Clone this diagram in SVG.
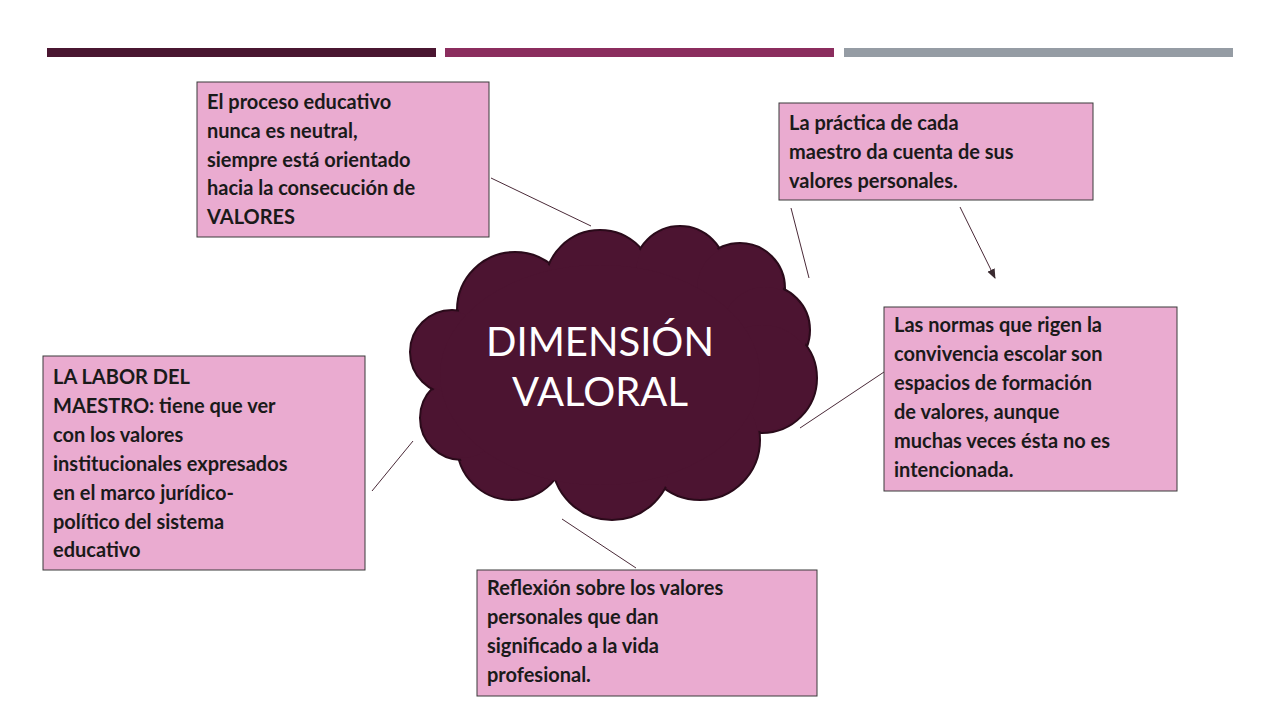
<svg xmlns="http://www.w3.org/2000/svg" width="1280" height="720" viewBox="0 0 1280 720">
<style>
.box{fill:#eaabd0;stroke:#3a3a3a;stroke-width:1}
.t{font-family:Lato,"Open Sans",sans-serif;font-weight:bold;font-size:20px;fill:#1a1a1a}
.c{stroke:#4a2a38;stroke-width:1;fill:none}
.cl{fill:#4c1431;stroke:#2a0a1a;stroke-width:2}
.cf{fill:#4c1431}
</style>
<defs><marker id="ah" markerWidth="10" markerHeight="10" refX="9" refY="5" orient="auto" markerUnits="userSpaceOnUse"><path d="M0,1 L10,5 L0,9 z" fill="#3a2a30"/></marker></defs>
<rect x="47" y="48" width="389" height="9" fill="#4a1631"/>
<rect x="445" y="48" width="389" height="9" fill="#8b2d5e"/>
<rect x="844" y="48" width="389" height="9" fill="#959ca4"/>
<g id="cloud">
<g class="cl">
<circle cx="515" cy="310" r="58"/><circle cx="600" cy="285" r="55"/><circle cx="680" cy="272" r="46"/><circle cx="740" cy="288" r="45"/><circle cx="765" cy="330" r="45"/><circle cx="762" cy="378" r="55"/><circle cx="700" cy="440" r="60"/><circle cx="612" cy="460" r="60"/><circle cx="512" cy="445" r="55"/><circle cx="462" cy="418" r="42"/><circle cx="452" cy="352" r="42"/>
</g>
<g class="cf">
<circle cx="515" cy="310" r="56"/><circle cx="600" cy="285" r="53"/><circle cx="680" cy="272" r="44"/><circle cx="740" cy="288" r="43"/><circle cx="765" cy="330" r="43"/><circle cx="762" cy="378" r="53"/><circle cx="700" cy="440" r="58"/><circle cx="612" cy="460" r="58"/><circle cx="512" cy="445" r="53"/><circle cx="462" cy="418" r="40"/><circle cx="452" cy="352" r="40"/><ellipse cx="600" cy="375" rx="160" ry="110"/>
</g>
<text x="600" y="356" text-anchor="middle" font-family="Lato,sans-serif" font-size="40" fill="#fff">DIMENSIÓN</text>
<text x="600" y="406" text-anchor="middle" font-family="Lato,sans-serif" font-size="40" fill="#fff">VALORAL</text>
</g>
<g id="connectors">
<line class="c" x1="491" y1="178" x2="591" y2="226"/>
<line class="c" x1="791" y1="208" x2="809" y2="278"/>
<line class="c" x1="960" y1="207" x2="995" y2="278" marker-end="url(#ah)"/>
<line class="c" x1="884" y1="372" x2="800" y2="428"/>
<line class="c" x1="413" y1="441" x2="372" y2="491"/>
<line class="c" x1="562" y1="519" x2="636" y2="568"/>
</g>
<g id="n1"><rect class="box" x="197" y="82" width="292" height="155"/>
<text class="t" x="207" y="109">El proceso educativo</text><text class="t" x="207" y="138">nunca es neutral,</text><text class="t" x="207" y="167">siempre está orientado</text><text class="t" x="207" y="195">hacia la consecución de</text><text class="t" x="207" y="224">VALORES</text></g>
<g id="n2"><rect class="box" x="779" y="103" width="314" height="97"/>
<text class="t" x="789" y="130">La práctica de cada</text><text class="t" x="789" y="159">maestro da cuenta de sus</text><text class="t" x="789" y="188">valores personales.</text></g>
<g id="n3"><rect class="box" x="884" y="307" width="293" height="184"/>
<text class="t" x="894" y="332">Las normas que rigen la</text><text class="t" x="894" y="361">convivencia escolar son</text><text class="t" x="894" y="390">espacios de formación</text><text class="t" x="894" y="419">de valores, aunque</text><text class="t" x="894" y="448">muchas veces ésta no es</text><text class="t" x="894" y="477">intencionada.</text></g>
<g id="n4"><rect class="box" x="43" y="356" width="322" height="214"/>
<text class="t" x="53" y="384">LA LABOR DEL</text><text class="t" x="53" y="413">MAESTRO: tiene que ver</text><text class="t" x="53" y="442">con los valores</text><text class="t" x="53" y="471">institucionales expresados</text><text class="t" x="53" y="500">en el marco jurídico-</text><text class="t" x="53" y="529">político del sistema</text><text class="t" x="53" y="557">educativo</text></g>
<g id="n5"><rect class="box" x="477" y="570" width="340" height="126"/>
<text class="t" x="487" y="595">Reflexión sobre los valores</text><text class="t" x="487" y="624">personales que dan</text><text class="t" x="487" y="653">significado a la vida</text><text class="t" x="487" y="682">profesional.</text></g>
</svg>
